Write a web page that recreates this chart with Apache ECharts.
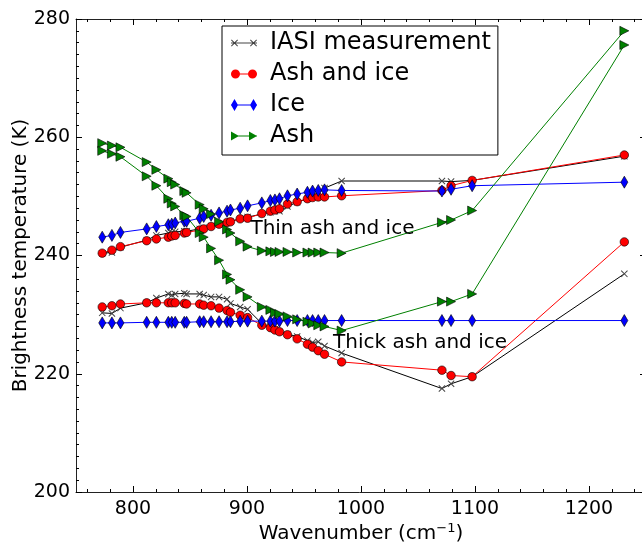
<!DOCTYPE html>
<html><head><meta charset="utf-8">
<script src="https://cdn.jsdelivr.net/npm/echarts@6/dist/echarts.min.js"></script>
<style>html,body{margin:0;padding:0;background:#fff;}#c{width:642px;height:545px;}</style>
</head><body><div id="c"></div>
<script>
const wavenumbers = [773, 781.5, 789, 812, 820.5, 831, 834, 837, 845, 847, 858.5, 862, 868.5, 875.5, 882.5, 885.5, 894, 900.5, 913, 920.5, 924.5, 928.5, 935.5, 944, 953, 957.5, 962.5, 968, 983, 1071, 1079, 1097.5, 1231];
const iasiThin = [240.4, 240.5, 241.4, 242.6, 243.4, 243.8, 243.9, 244.0, 244.1, 244.1, 244.5, 244.7, 245.0, 245.3, 245.5, 245.8, 246.2, 246.5, 247.0, 247.3, 247.5, 247.5, 248.3, 249.0, 249.6, 250.0, 250.6, 251.4, 252.6, 252.6, 252.5, 252.7, 256.8];
const iasiThick = [230.3, 230.2, 231.1, 232.0, 232.8, 233.5, 233.3, 233.5, 233.6, 233.5, 233.5, 233.3, 233.0, 233.0, 232.6, 231.9, 231.3, 230.9, 228.5, 228.0, 227.5, 227.1, 226.7, 226.3, 225.6, 225.3, 225.4, 224.7, 223.5, 217.5, 218.3, 219.5, 236.9];
const ashIceThin = [240.4, 240.9, 241.5, 242.5, 242.8, 243.1, 243.3, 243.4, 243.8, 243.9, 244.3, 244.5, 244.9, 245.3, 245.6, 245.7, 246.2, 246.3, 247.1, 247.5, 247.7, 247.9, 248.7, 249.1, 249.6, 249.8, 249.9, 249.9, 250.1, 251.0, 251.8, 252.7, 257.0];
const ashIceThick = [231.3, 231.5, 231.8, 232.0, 232.0, 232.0, 232.0, 232.0, 231.9, 231.8, 231.8, 231.6, 231.5, 231.1, 230.7, 230.4, 229.9, 229.5, 228.2, 227.8, 227.4, 227.1, 226.6, 225.9, 225.0, 224.5, 223.9, 223.3, 222.0, 220.6, 219.7, 219.5, 242.3];
const iceThin = [243.1, 243.4, 243.9, 244.5, 244.9, 245.2, 245.3, 245.5, 245.8, 245.8, 246.3, 246.6, 246.8, 247.2, 247.5, 247.7, 248.0, 248.4, 248.9, 249.3, 249.4, 249.6, 250.1, 250.4, 250.7, 250.9, 251.0, 251.1, 251.0, 250.9, 251.2, 251.8, 252.4];
const iceThick = [228.6, 228.6, 228.6, 228.7, 228.7, 228.7, 228.7, 228.7, 228.7, 228.7, 228.8, 228.8, 228.8, 228.8, 228.8, 228.8, 228.9, 228.9, 228.9, 228.9, 228.9, 228.9, 229.0, 229.0, 229.0, 229.0, 229.0, 229.0, 229.0, 229.0, 229.0, 229.0, 229.0];
const ashThin = [259.0, 258.6, 258.3, 255.8, 254.5, 253.0, 252.4, 252.0, 250.9, 250.6, 248.6, 247.9, 247.0, 245.7, 244.4, 243.8, 242.4, 241.5, 240.8, 240.7, 240.6, 240.6, 240.6, 240.5, 240.5, 240.5, 240.5, 240.5, 240.4, 245.6, 246.0, 247.6, 278.0];
const ashThick = [257.7, 257.2, 256.7, 253.4, 251.8, 249.6, 248.8, 248.3, 246.8, 246.6, 243.8, 243.1, 241.2, 239.2, 236.8, 235.9, 234.2, 233.0, 231.3, 230.8, 230.3, 230.1, 229.7, 229.2, 228.8, 228.5, 228.2, 228.0, 227.3, 232.2, 232.2, 233.5, 275.6];
const seriesNames = ['IASI measurement', 'Ash and ice', 'Ice', 'Ash'];
const xMajorTicks = [800, 900, 1000, 1100, 1200];
const xMinorTicks = [760, 780, 800, 820, 840, 860, 880, 900, 920, 940, 960, 980, 1000, 1020, 1040, 1060, 1080, 1100, 1120, 1140, 1160, 1180, 1200, 1220, 1240];
const annotations = [
  {text: 'Thin ash and ice', x: 903, y: 244.6},
  {text: 'Thick ash and ice', x: 975.5, y: 225.2}
];

const FONT = 'DejaVu Sans';
const pair = (ys) => wavenumbers.map((w, i) => [w, ys[i]]);

const xSym = 'path://M0,1 L1,0 L10,9 L9,10 Z M9,0 L10,1 L1,10 L0,9 Z';
const triSym = 'path://M0,0 L10,5 L0,10 Z';

const legIcons = {
  iasi: 'path://M0,5.5 L26,5.5 L26,6.5 L0,6.5 Z M0,3.2 L0.7,2.5 L7,8.8 L6.3,9.5 Z M6.3,2.5 L7,3.2 L0.7,9.5 L0,8.8 Z M19,3.2 L19.7,2.5 L26,8.8 L25.3,9.5 Z M25.3,2.5 L26,3.2 L19.7,9.5 L19,8.8 Z',
  circ: 'path://M0,5.5 L26,5.5 L26,6.5 L0,6.5 Z M0,6 A4.5,4.5 0 1 1 9,6 A4.5,4.5 0 1 1 0,6 Z M17,6 A4.5,4.5 0 1 1 26,6 A4.5,4.5 0 1 1 17,6 Z',
  dia: 'path://M0,5.5 L26,5.5 L26,6.5 L0,6.5 Z M3.5,0 L7,6 L3.5,12 L0,6 Z M22.5,0 L26,6 L22.5,12 L19,6 Z',
  tri: 'path://M0,5.5 L26,5.5 L26,6.5 L0,6.5 Z M0,1.5 L8,6 L0,10.5 Z M18,1.5 L26,6 L18,10.5 Z'
};

function mk(name, ys, color, symbol, size, border, extra) {
  return Object.assign({
    type: 'line', name: name, data: pair(ys),
    symbol: symbol, symbolSize: size, showAllSymbol: true,
    lineStyle: {color: color, width: 1},
    itemStyle: {color: color === '#000000' ? '#444' : color, borderColor: '#000', borderWidth: border},
    emphasis: {disabled: true}, xAxisIndex: 0, yAxisIndex: 0
  }, extra || {});
}

const annoMark = {
  symbol: 'circle', symbolSize: 0, silent: true,
  label: {show: true, position: 'right', distance: 0, formatter: '{b}', color: '#000', fontSize: 20, fontFamily: FONT},
  data: annotations.map(a => ({name: a.text, coord: [a.x, a.y]}))
};

const plain = v => String(v);
const axisLineStyle = {color: '#222', width: 1};
const option = {
  animation: false,
  backgroundColor: '#fff',
  textStyle: {fontFamily: FONT},
  grid: {left: 76, top: 19, width: 570, height: 473, containLabel: false, outerBoundsMode: 'none'},
  legend: {
    data: [
      {name: seriesNames[0], icon: legIcons.iasi},
      {name: seriesNames[1], icon: legIcons.circ},
      {name: seriesNames[2], icon: legIcons.dia},
      {name: seriesNames[3], icon: legIcons.tri}
    ],
    orient: 'vertical', left: 222, top: 26,
    itemWidth: 26, itemHeight: 12, itemGap: 7,
    padding: [5, 7, 7, 9],
    borderColor: '#000', borderWidth: 1, backgroundColor: '#fff',
    itemStyle: {borderWidth: 0},
    textStyle: {fontSize: 24, color: '#000', fontFamily: FONT, padding: [0, 0, 0, 8]},
    selectedMode: false
  },
  xAxis: [
    {type: 'value', position: 'bottom', min: 750, max: 1250,
     axisLine: {show: true, lineStyle: axisLineStyle},
     axisTick: {show: true, inside: true, length: 6, customValues: xMajorTicks, lineStyle: {color: '#000'}},
     axisLabel: {show: true, customValues: xMajorTicks, formatter: plain, fontSize: 19, color: '#000', margin: 8, fontFamily: FONT},
     splitLine: {show: false},
     name: 'Wavenumber (cm{sup|−1})', nameLocation: 'middle', nameGap: 30, nameMoveOverlap: false,
     nameTextStyle: {fontSize: 20, color: '#000', fontFamily: FONT, rich: {sup: {fontSize: 13, verticalAlign: 'top', color: '#000', fontFamily: FONT, padding: [0, 0, 10, 0]}}}
    },
    {type: 'value', position: 'bottom', min: 750, max: 1250, gridIndex: 0,
     axisLine: {show: false}, axisLabel: {show: false}, splitLine: {show: false},
     axisTick: {show: true, inside: true, length: 3, customValues: xMinorTicks, lineStyle: {color: '#000'}}},
    {type: 'value', position: 'top', min: 750, max: 1250,
     axisLine: {show: true, lineStyle: axisLineStyle}, axisLabel: {show: false}, splitLine: {show: false},
     axisTick: {show: true, inside: true, length: 6, customValues: xMajorTicks, lineStyle: {color: '#000'}}},
    {type: 'value', position: 'top', min: 750, max: 1250,
     axisLine: {show: false}, axisLabel: {show: false}, splitLine: {show: false},
     axisTick: {show: true, inside: true, length: 3, customValues: xMinorTicks, lineStyle: {color: '#000'}}}
  ],
  yAxis: [
    {type: 'value', position: 'left', min: 200, max: 280, interval: 20,
     axisLine: {show: true, lineStyle: axisLineStyle},
     axisTick: {show: true, inside: true, length: 6, lineStyle: {color: '#000'}},
     minorTick: {show: true, splitNumber: 10, length: 3, lineStyle: {color: '#000'}},
     axisLabel: {fontSize: 19, color: '#000', margin: 6, fontFamily: FONT, formatter: plain},
     splitLine: {show: false}, minorSplitLine: {show: false},
     name: 'Brightness temperature (K)', nameLocation: 'middle', nameGap: 45, nameMoveOverlap: false,
     nameTextStyle: {fontSize: 20, color: '#000', fontFamily: FONT}},
    {type: 'value', position: 'right', min: 200, max: 280, interval: 20,
     axisLine: {show: true, lineStyle: axisLineStyle},
     axisTick: {show: true, inside: true, length: 6, lineStyle: {color: '#000'}},
     minorTick: {show: true, splitNumber: 10, length: 3, lineStyle: {color: '#000'}},
     axisLabel: {show: false}, splitLine: {show: false}}
  ],
  series: [
    mk(seriesNames[0], iasiThin, '#000000', xSym, 7, 0),
    mk(seriesNames[0], iasiThick, '#000000', xSym, 7, 0),
    mk(seriesNames[1], ashIceThin, '#ff0000', 'circle', 8.5, 0.6),
    mk(seriesNames[1], ashIceThick, '#ff0000', 'circle', 8.5, 0.6),
    mk(seriesNames[2], iceThin, '#0000ff', 'diamond', [7, 12], 0.6),
    mk(seriesNames[2], iceThick, '#0000ff', 'diamond', [7, 12], 0.6),
    mk(seriesNames[3], ashThin, '#008000', triSym, [9, 9], 0.6, {markPoint: annoMark}),
    mk(seriesNames[3], ashThick, '#008000', triSym, [9, 9], 0.6)
  ]
};
const chart = echarts.init(document.getElementById('c'), null, {renderer: 'canvas'});
chart.setOption(option);
</script>
</body></html>
